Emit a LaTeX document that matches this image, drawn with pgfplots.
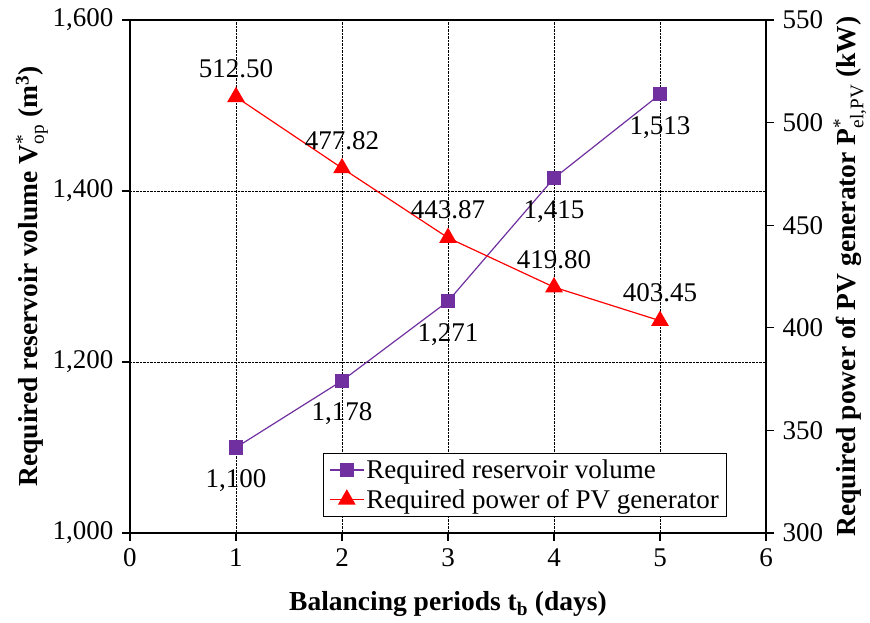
\documentclass[border=0pt]{standalone}
\usepackage{pgfplots}
\pgfplotsset{compat=1.18}
\usepackage{amsmath}
\usepackage{fontspec}
\setmainfont{Liberation Serif}
\definecolor{vio}{RGB}{112,48,160}
\pgfplotsset{
  common/.style={
    scale only axis, width=636pt, height=513pt,
    xmin=0,xmax=6,
    tick align=outside,
    major tick length=8pt,
    axis line style={line width=1.6pt},
    tick style={black,line width=1.2pt},
    /pgf/number format/assume math mode=true,
    ticklabel style={font=\fontsize{27}{32}\selectfont},
    label style={font=\bfseries\fontsize{27.5}{32}\selectfont},
  }
}
\begin{document}
\begin{tikzpicture}
\useasboundingbox (-130pt,-90pt) rectangle (740pt,533pt);
\begin{axis}[
 common,
 ymin=1000,ymax=1600,
 xtick={0,...,6}, ytick={1000,1200,1400,1600},
 xtick pos=bottom, ytick pos=left,
 grid=major, grid style={black, densely dotted, line width=0.8pt},
 /pgf/number format/1000 sep={,},
 yticklabel style={xshift=-5pt},
 xticklabel style={yshift=-4pt},
 xlabel={Balancing periods t$_{\text{b}}$ (days)},
 ylabel={Required reservoir volume V$^{\textmd{*}}_{\textmd{op}}$ (m$^{\text{3}}$)},
 xlabel style={at={(axis description cs:0.5,-0.152)}, anchor=base},
 ylabel style={at={(axis description cs:-0.145,0.5)}, anchor=base, rotate=0},
]
\addplot[vio, line width=1.2pt, mark=square*, mark size=6.5pt, mark options={solid},
  nodes near coords,
  every node near coord/.append style={anchor=base, yshift=-40pt, text=black, font=\fontsize{27}{32}\selectfont}]
  coordinates {(1,1100)(2,1178)(3,1271)(4,1415)(5,1513)};
\end{axis}
\begin{axis}[
 common,
 ymin=300,ymax=550,
 axis y line*=right, axis x line=none,
 ytick={300,350,...,550},
 yticklabel style={xshift=5pt},
 ylabel={Required power of PV generator P$^{\textmd{*}}_{\textmd{el,PV}}$ (kW)},
 ylabel style={at={(axis description cs:1.14,0.5)}, anchor=base, rotate=0},
 legend style={at={(0.939,0.031)}, anchor=south east, draw=black, line width=0.8pt,
   font=\fontsize{27}{32}\selectfont, row sep=5pt, inner xsep=6pt, inner ysep=5pt},
 legend cell align=left,
 legend image code/.code={\draw[mark repeat=2,mark phase=2,#1] plot coordinates {(0pt,0pt)(17pt,0pt)(34pt,0pt)};},
]
\addlegendimage{vio, line width=1.2pt, mark=square*, mark size=6.5pt, mark options={solid}}
\addlegendentry{Required reservoir volume}
\addplot[red, line width=1.2pt, mark=triangle*, mark size=9pt, mark options={solid},
  nodes near coords={\pgfmathprintnumber[fixed,fixed zerofill,precision=2]{\pgfplotspointmeta}},
  every node near coord/.append style={anchor=base, yshift=19pt, text=black, font=\fontsize{27}{32}\selectfont}]
  coordinates {(1,512.50)(2,477.82)(3,443.87)(4,419.80)(5,403.45)};
\addlegendentry{Required power of PV generator}
\end{axis}
\end{tikzpicture}
\end{document}
